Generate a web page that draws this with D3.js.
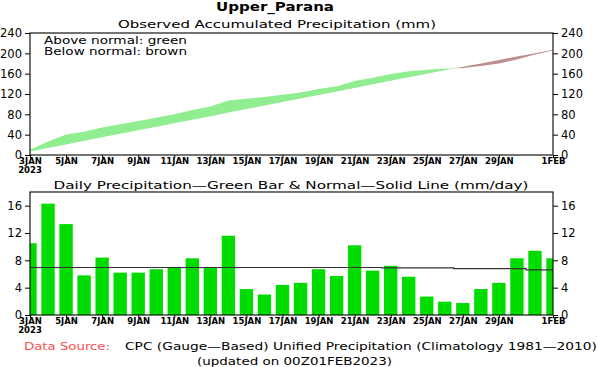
<!DOCTYPE html>
<html><head><meta charset="utf-8">
<script src="https://cdn.jsdelivr.net/npm/d3@7"></script>
<style>
body{margin:0;background:#fff;}
svg{display:block;}
text{font-family:"DejaVu Sans",sans-serif;fill:#000;}
</style></head>
<body>
<svg id="c" width="598" height="367"></svg>
<script>
// ---- data ----
const days = ["3JAN","4JAN","5JAN","6JAN","7JAN","8JAN","9JAN","10JAN","11JAN","12JAN","13JAN","14JAN","15JAN","16JAN","17JAN","18JAN","19JAN","20JAN","21JAN","22JAN","23JAN","24JAN","25JAN","26JAN","27JAN","28JAN","29JAN","30JAN","31JAN","1FEB"];
const observed = [10.5,16.3,13.3,5.8,8.4,6.2,6.2,6.7,6.9,8.3,6.9,11.6,3.8,3.0,4.4,4.7,6.7,5.7,10.2,6.5,7.2,5.6,2.7,1.95,1.75,3.8,4.7,8.3,9.4,8.3];
const normal = [6.95,6.95,6.95,6.95,6.95,6.95,6.95,6.95,6.95,6.95,6.95,6.95,6.95,6.95,6.95,6.95,6.95,6.95,6.95,6.95,6.9,6.9,6.9,6.9,6.8,6.8,6.8,6.8,6.6,6.6];
const xTickIdx = [0,2,4,6,8,10,12,14,16,18,20,22,24,26,29];
const xTickLabels = ["3JAN","5JAN","7JAN","9JAN","11JAN","13JAN","15JAN","17JAN","19JAN","21JAN","23JAN","25JAN","27JAN","29JAN","1FEB"];
const accTicks = [0,40,80,120,160,200,240];
const dailyTicks = [0,4,8,12,16];

const obsAcc = Array.from(d3.cumsum(observed));
const normAcc = Array.from(d3.cumsum(normal));

const svg = d3.select("#c");
const L = 30, R = 553;
const x = d3.scaleLinear().domain([0, days.length-1]).range([L, R]);

function txt(s, xx, yy, opts={}) {
  const t = svg.append("text").attr("x", xx).attr("y", yy).text(s)
    .attr("font-size", opts.size||11).attr("text-anchor", opts.anchor||"start");
  if (opts.len) t.attr("textLength", opts.len).attr("lengthAdjust", "spacingAndGlyphs");
  if (opts.weight) t.attr("font-weight", opts.weight);
  if (opts.fill) t.style("fill", opts.fill);
  return t;
}

// title
txt("Upper_Parana", 275, 11, {size:13, anchor:"middle", weight:"bold", len:118});

// ---------- top chart ----------
const y1 = d3.scaleLinear().domain([0,240]).range([155,33]);
txt("Observed Accumulated Precipitation (mm)", 277, 28, {size:11, anchor:"middle", len:318});

const defs = svg.append("defs");
defs.append("clipPath").attr("id","belowObs").append("path")
  .attr("d", d3.area().x((d,i)=>x(i)).y0(y1(0)).y1(d=>y1(d))(obsAcc));
defs.append("clipPath").attr("id","aboveObs").append("path")
  .attr("d", d3.area().x((d,i)=>x(i)).y0(y1(240)).y1(d=>y1(d))(obsAcc));

// green: above normal and below observed
svg.append("path").attr("clip-path","url(#belowObs)")
  .attr("d", d3.area().x((d,i)=>x(i)).y0(y1(240)).y1(d=>y1(d))(normAcc))
  .attr("fill","rgb(144,238,144)");
// brown: below normal and above observed
svg.append("path").attr("clip-path","url(#aboveObs)")
  .attr("d", d3.area().x((d,i)=>x(i)).y0(y1(0)).y1(d=>y1(d))(normAcc))
  .attr("fill","rgb(188,143,143)");

txt("Above normal: green", 44, 44, {size:10.5, len:143});
txt("Below normal: brown", 44, 55, {size:10.5, len:143});

function frame(yscale, ticks, top, bottom) {
  svg.append("rect").attr("x", L).attr("y", top).attr("width", R-L).attr("height", bottom-top)
    .attr("fill","none").attr("stroke","#000").attr("stroke-width",1.1);
  const gl = svg.append("g").attr("transform",`translate(${L},0)`)
    .call(d3.axisLeft(yscale).tickValues(ticks).tickSize(5).tickSizeOuter(0).tickPadding(3));
  const gr = svg.append("g").attr("transform",`translate(${R},0)`)
    .call(d3.axisRight(yscale).tickValues(ticks).tickSize(5).tickSizeOuter(0).tickPadding(3));
  const gb = svg.append("g").attr("transform",`translate(0,${bottom})`)
    .call(d3.axisBottom(x).tickValues(xTickIdx).tickFormat((d,i)=>xTickLabels[i]).tickSize(3).tickSizeOuter(0).tickPadding(0));
  [gl,gr,gb].forEach(g=>{
    g.select(".domain").remove();
    g.selectAll("line").attr("stroke","#000");
    g.selectAll("text").attr("font-family","DejaVu Sans").attr("fill","#000");
  });
  gl.selectAll("text").attr("font-size",11.5);
  gr.selectAll("text").attr("font-size",11.5);
  gb.selectAll("text").attr("font-size",8.5).attr("font-weight","bold");
  txt("2023", L, bottom+18, {size:8.5, anchor:"middle", weight:"bold"});
}
frame(y1, accTicks, 33, 155);

// ---------- bottom chart ----------
const y2 = d3.scaleLinear().domain([0,18]).range([315,192]);
txt("Daily Precipitation\u2014Green Bar & Normal\u2014Solid Line (mm/day)", 291, 189, {size:11, anchor:"middle", len:475});

defs.append("clipPath").attr("id","plot2").append("rect")
  .attr("x", L).attr("y", 192).attr("width", R-L).attr("height", 315-192);
const bw = (x(1)-x(0))*0.74;
svg.append("g").attr("clip-path","url(#plot2)").selectAll("rect").data(observed).join("rect")
  .attr("x",(d,i)=>x(i)-bw/2).attr("width",bw)
  .attr("y",d=>y2(d)).attr("height",d=>y2(0)-y2(d))
  .attr("fill","rgb(0,220,0)");
svg.append("path")
  .attr("d", d3.line().x((d,i)=>x(i)).y(d=>y2(d)).curve(d3.curveStep)(normal))
  .attr("fill","none").attr("stroke","#333").attr("stroke-width",1.2);
frame(y2, dailyTicks, 192, 315);

// footer
txt("Data Source:", 24, 350, {size:11, len:86, fill:"rgb(255,80,80)"});
txt("CPC (Gauge\u2014Based) Unified Precipitation (Climatology 1981\u20142010)", 125, 350, {size:11, len:472});
txt("(updated on 00Z01FEB2023)", 197, 365, {size:11, len:195});
</script>
</body></html>
